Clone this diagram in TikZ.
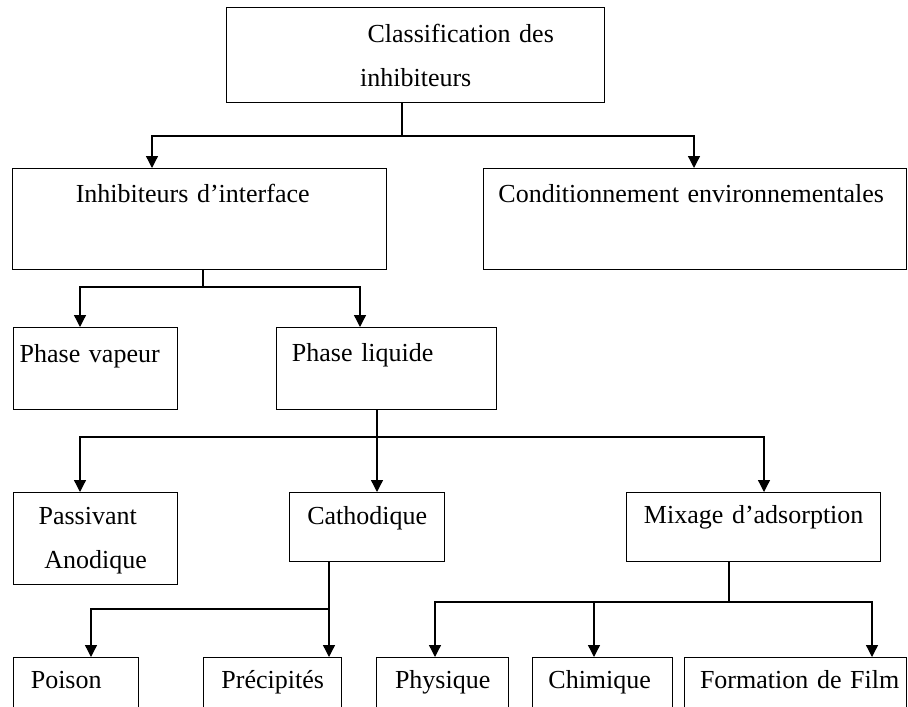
\documentclass[tikz,border=0pt]{standalone}
\usepackage{fontspec}
\setmainfont{Liberation Serif}
\usetikzlibrary{arrows.meta}

\tikzset{
  boite/.style={draw,line width=1.4pt,anchor=north west,inner sep=0pt,align=center,
    font=\fontsize{26}{43.5}\selectfont},
  fleche/.style={line width=1.3pt,-{Triangle[length=12pt,width=12pt]}},
}

\begin{document}
\begin{tikzpicture}[x=1pt,y=-1pt]
\useasboundingbox (0,0) rectangle (908,707);
\clip (0,0) rectangle (908,707);
% boites
\node[boite,text width=378pt,text height=35pt,text depth=60pt] (classif) at (226,7) {\hspace*{90pt}Classification des\\inhibiteurs};
\node[boite,text width=374pt,text height=34pt,text depth=67pt] (inhib) at (12,168) {\hspace*{-14pt}Inhibiteurs d’interface};
\node[boite,text width=423pt,text height=34pt,text depth=67pt] (cond) at (483,168) {\hspace*{-8pt}Conditionnement environnementales};
\node[boite,text width=164pt,text height=35pt,text depth=47pt] (vapeur) at (13,327) {\hspace*{-12pt}Phase vapeur};
\node[boite,text width=220pt,text height=34pt,text depth=48pt] (liquide) at (276,327) {\hspace*{-48pt}Phase liquide};
\node[boite,text width=164pt,text height=32pt,text depth=60pt] (pass) at (13,492) {\hspace*{-16pt}Passivant\\Anodique};
\node[boite,text width=155pt,text height=32pt,text depth=37pt] (cath) at (289,492) {Cathodique};
\node[boite,text width=254pt,text height=31pt,text depth=38pt] (mix) at (626,492) {Mixage d’adsorption};
\node[boite,text width=125pt,text height=31pt,text depth=40pt] (poison) at (13,657) {\hspace*{-20pt}Poison};
\node[boite,text width=138pt,text height=31pt,text depth=40pt] (precip) at (203,657) {Précipités};
\node[boite,text width=132pt,text height=31pt,text depth=40pt] (phys) at (376,657) {Physique};
\node[boite,text width=140pt,text height=31pt,text depth=40pt] (chim) at (532,657) {\hspace*{-6pt}Chimique};
\node[boite,text width=222pt,text height=31pt,text depth=40pt] (film) at (684,657) {\hspace*{8pt}Formation de Film};
% liaisons
\draw[fleche] (classif.south -| 402,0) |- (152,136) -- (inhib.north -| 152,0);
\draw[fleche] (classif.south -| 402,0) |- (694,136) -- (cond.north -| 694,0);
\draw[fleche] (inhib.south -| 203,0) |- (80,287) -- (vapeur.north -| 80,0);
\draw[fleche] (inhib.south -| 203,0) |- (360,287) -- (liquide.north -| 360,0);
\draw[fleche] (liquide.south -| 377,0) |- (80,437) -- (pass.north -| 80,0);
\draw[fleche] (liquide.south -| 377,0) -- (cath.north -| 377,0);
\draw[fleche] (liquide.south -| 377,0) |- (764,437) -- (mix.north -| 764,0);
\draw[fleche] (cath.south -| 329,0) |- (91,609) -- (poison.north -| 91,0);
\draw[fleche] (cath.south -| 329,0) -- (precip.north -| 329,0);
\draw[fleche] (mix.south -| 729,0) |- (435,602) -- (phys.north -| 435,0);
\draw[fleche] (mix.south -| 729,0) |- (594,602) -- (chim.north -| 594,0);
\draw[fleche] (mix.south -| 729,0) |- (872,602) -- (film.north -| 872,0);
\end{tikzpicture}
\end{document}
